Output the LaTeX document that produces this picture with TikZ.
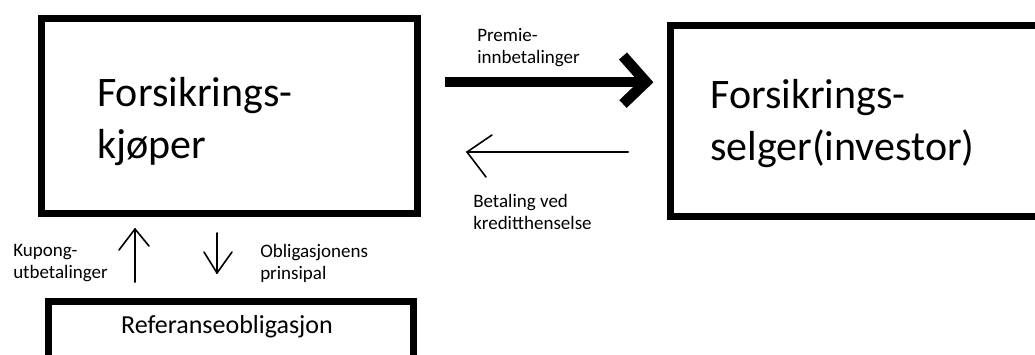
\documentclass[tikz,border=0pt]{standalone}
\usepackage{fontspec}
\setmainfont{Carlito}
\begin{document}
\begin{tikzpicture}[x=0.75pt,y=-0.75pt,
  box/.style={draw=black,line width=5.25pt,inner sep=0pt,minimum width=#1},
  bigtext/.style={anchor=base west,inner sep=0pt,align=left,font=\fontsize{31.5pt}{39pt}\selectfont},
  smalltext/.style={anchor=base west,inner sep=0pt,align=left,font=\fontsize{14.25pt}{16.5pt}\selectfont},
  thinarrow/.style={line width=1.5pt,line cap=round,line join=round},
  thickarrow/.style={line width=8pt,line join=miter}]
\useasboundingbox (0,0) rectangle (1035,354);
% boxes
\node[box=282pt,minimum height=146.25pt] (kjoper) at (229.5,116) {};
\node[box=281.25pt,minimum height=142.9pt] (selger) at (857.5,120.75) {};
\node[box=273.4pt,minimum height=51.4pt] (ref) at (230.75,335.75) {};
% texts (base anchor = baseline of the last line)
\node[bigtext] (tk) at (97,158) {Forsikrings-\\kjøper};
\node[bigtext] (ts) at (710,160) {Forsikrings-\\selger(investor)};
\node[anchor=base,inner sep=0pt,font=\fontsize{19.5pt}{23pt}\selectfont] (tr) at (227,333) {Referanseobligasjon};
\node[smalltext] (lp) at (477,63) {Premie-\\innbetalinger};
\node[smalltext] (lb) at (473,229) {Betaling ved\\kreditthenselse};
\node[smalltext] (lk) at (13,278) {Kupong-\\utbetalinger};
\node[smalltext] (lo) at (260,279) {Obligasjonens\\prinsipal};
% coordinates for arrows
\coordinate (p1) at (445,82);
\coordinate (p2) at (646,82);
\coordinate (p2a) at (623,56);
\coordinate (p2b) at (623,104);
\coordinate (b1) at (628,152);
\coordinate (b2) at (467,152);
\coordinate (b2a) at (492,135);
\coordinate (b2b) at (486,177);
\coordinate (u1) at (135,282);
\coordinate (u2) at (135,229);
\coordinate (u2a) at (119,250);
\coordinate (u2b) at (149,246);
\coordinate (d1) at (217,233);
\coordinate (d2) at (217,273);
\coordinate (d2a) at (204,252);
\coordinate (d2b) at (232,252);
% arrows
\draw[thickarrow] (p1) -- (p2);
\draw[thickarrow] (p2a) -- (p2) -- (p2b);
\draw[thinarrow] (b1) -- (b2);
\draw[thinarrow,line width=1.2pt] (b2a) -- (b2) -- (b2b);
\draw[thinarrow] (u1) -- (u2);
\draw[thinarrow,line width=1.2pt] (u2a) -- (u2) -- (u2b);
\draw[thinarrow] (d1) -- (d2);
\draw[thinarrow,line width=1.2pt] (d2a) -- (d2) -- (d2b);
\end{tikzpicture}
\end{document}
